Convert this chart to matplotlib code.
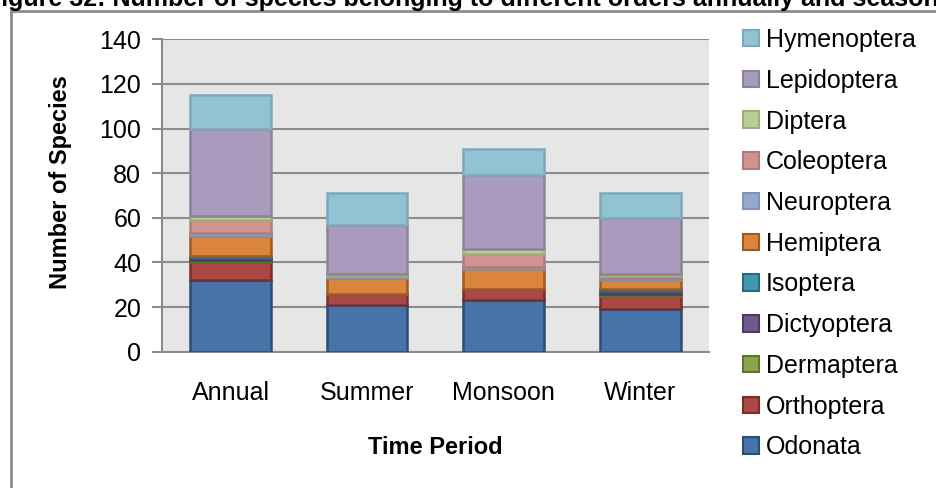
"""Stacked bars: insect species per order, annual and by season."""
import numpy as np
import matplotlib
matplotlib.use("Agg")
import matplotlib.pyplot as plt
from matplotlib.lines import Line2D
from matplotlib.patches import Patch

periods = ["Annual", "Summer", "Monsoon", "Winter"]

# bottom -> top stacking order
orders = ["Odonata", "Orthoptera", "Dermaptera", "Dictyoptera", "Isoptera",
          "Hemiptera", "Neuroptera", "Coleoptera", "Diptera", "Lepidoptera",
          "Hymenoptera"]
odonata     = [32, 21, 23, 19]
orthoptera  = [8, 5, 5, 6]
dermaptera  = [1, 0, 0, 1]
dictyoptera = [1, 0, 0, 1]
isoptera    = [1, 0, 0, 1]
hemiptera   = [9, 7, 9, 4]
neuroptera  = [1, 1, 1, 1]
coleoptera  = [6, 0, 6, 1]
diptera     = [2, 1, 2, 1]
lepidoptera = [39, 22, 33, 25]
hymenoptera = [15, 14, 12, 11]

values = [odonata, orthoptera, dermaptera, dictyoptera, isoptera, hemiptera,
          neuroptera, coleoptera, diptera, lepidoptera, hymenoptera]

faces = ["#4673A8", "#AB4744", "#89A54E", "#71588F", "#4198AF", "#DB843D",
         "#93A9CF", "#D19392", "#B9CD96", "#A99BBD", "#92C3D4"]
edges = ["#2C4D75", "#7A2E2C", "#5E7530", "#4D3B63", "#2A6A7B", "#A05A1F",
         "#7F94B8", "#B07C7B", "#9DB07B", "#8E8299", "#7EA9B8"]

plt.rcParams["font.family"] = ["Liberation Sans", "DejaVu Sans"]
FS = 18

W, H = 937, 488
fig = plt.figure(figsize=(W / 100, H / 100), dpi=100)
ax = fig.add_axes([162.2 / W, 1 - 351.7 / H, (708.6 - 162.2) / W, (351.7 - 39.3) / H])
ax.set_facecolor("#E6E6E6")

x = np.arange(len(periods))
bottom = np.zeros(len(periods))
for name, vals, fc, ec in zip(orders, values, faces, edges):
    v = np.array(vals, dtype=float)
    ax.bar(x, v, bottom=bottom, width=0.59, color=fc, edgecolor=ec,
           linewidth=1.8, zorder=3)
    bottom += v

ax.set_xlim(-0.5, len(periods) - 0.5)
ax.set_ylim(0, 140)
ax.set_yticks(range(0, 141, 20))
ax.set_xticks(x)
ax.set_xticklabels(periods, fontsize=FS)
ax.tick_params(axis="y", labelsize=FS, length=7, width=1.5, color="#8C8C8C",
               pad=8, direction="out")
ax.tick_params(axis="x", length=0, pad=21)
ax.grid(axis="y", color="#8C8C8C", linewidth=1.5, zorder=0)
ax.set_axisbelow(True)
for s in ["top", "right"]:
    ax.spines[s].set_visible(False)
for s in ["left", "bottom"]:
    ax.spines[s].set_color("#8C8C8C")
    ax.spines[s].set_linewidth(1.5)

fig.text(61 / W, 1 - 182 / H, "Number of Species", rotation=90, fontsize=17,
         fontweight="bold", ha="center", va="center")
fig.text(435 / W, 1 - 447 / H, "Time Period", fontsize=17,
         fontweight="bold", ha="center", va="center")

# title, cut off by the image crop
fig.text(-14 / W, 1 - 6 / H,
         "Figure 32: Number of species belonging to different orders annually and seasonally",
         fontsize=18, fontweight="bold", ha="left", va="baseline")

# chart border (cropped)
fig.add_artist(Line2D([11 / W, 11 / W], [0, 1 - 11 / H], color="#8C8C8C", lw=2))
fig.add_artist(Line2D([11 / W, 1], [1 - 11 / H, 1 - 11 / H], color="#8C8C8C", lw=2))

handles = [Patch(facecolor=fc, edgecolor=ec, linewidth=1.5)
           for fc, ec in zip(faces, edges)][::-1]
fig.legend(handles, orders[::-1], loc="upper left",
           bbox_to_anchor=(743 / W, 1 - 28 / H), frameon=False, fontsize=FS,
           handlelength=0.64, handleheight=0.64, handletextpad=0.28,
           labelspacing=0.67, borderpad=0, borderaxespad=0)

fig.savefig("out.png", dpi=100)
